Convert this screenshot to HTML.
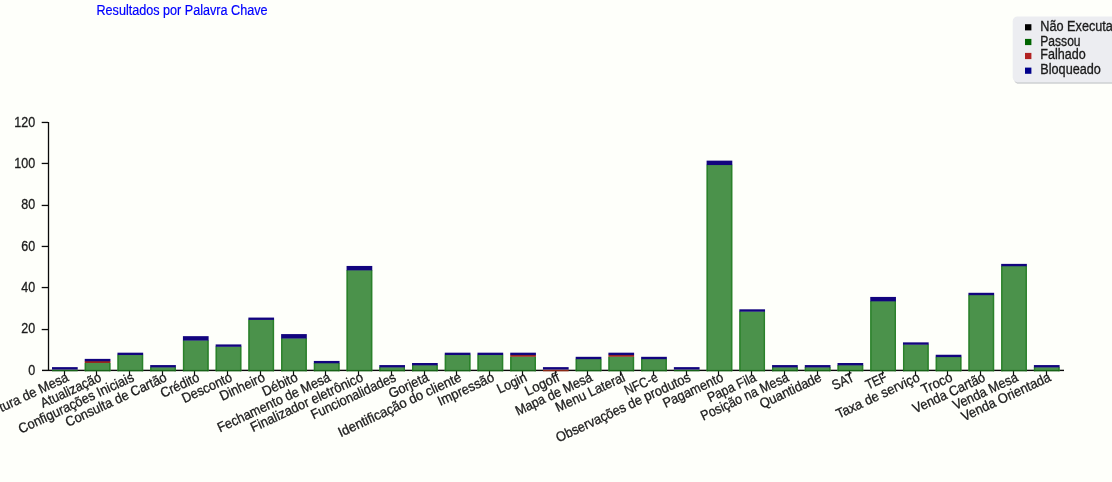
<!DOCTYPE html>
<html lang="pt-BR"><head><meta charset="utf-8"><title>Resultados por Palavra Chave</title>
<style>html,body{margin:0;padding:0;background:#fefffa;overflow:hidden}svg{display:block}text{font-family:"Liberation Sans",sans-serif;font-size:13.8px}</style>
</head><body>
<svg width="1112" height="482" viewBox="0 0 1112 482">
<rect x="0" y="0" width="1112" height="482" fill="#fefffa"/>
<text x="96.5" y="15.3" fill="#0000ff" stroke="#0000ff" stroke-width="0.2" textLength="171" lengthAdjust="spacingAndGlyphs">Resultados por Palavra Chave</text>
<g>
<rect x="1013.8" y="17.5" width="120" height="66.3" rx="5" ry="5" fill="#ced0d2"/>
<rect x="1012.7" y="16.4" width="120" height="65.8" rx="5" ry="5" fill="#ecedf1"/>
<rect x="1025" y="24.2" width="6.4" height="6.2" fill="#000000"/>
<text x="1040.3" y="31.2" fill="#1a1a1a" stroke="#1a1a1a" stroke-width="0.3" textLength="86.7" lengthAdjust="spacingAndGlyphs">Não Executado</text>
<rect x="1025" y="38.9" width="6.4" height="6.2" fill="#006400"/>
<text x="1040.3" y="45.7" fill="#1a1a1a" stroke="#1a1a1a" stroke-width="0.3" textLength="40.3" lengthAdjust="spacingAndGlyphs">Passou</text>
<rect x="1025" y="52.9" width="6.4" height="6.2" fill="#b22222"/>
<text x="1040.3" y="59.4" fill="#1a1a1a" stroke="#1a1a1a" stroke-width="0.3" textLength="45.4" lengthAdjust="spacingAndGlyphs">Falhado</text>
<rect x="1025" y="67.6" width="6.4" height="6.2" fill="#00008b"/>
<text x="1040.3" y="74.2" fill="#1a1a1a" stroke="#1a1a1a" stroke-width="0.3" textLength="60.6" lengthAdjust="spacingAndGlyphs">Bloqueado</text>
</g>
<g fill="#0a0a0a">
<rect x="47.85" y="122" width="1.3" height="249"/>
<rect x="42" y="369.7" width="1022" height="1.4"/>
<rect x="41.7" y="328.9" width="6.3" height="1.3"/>
<rect x="41.7" y="286.9" width="6.3" height="1.3"/>
<rect x="41.7" y="245.8" width="6.3" height="1.3"/>
<rect x="41.7" y="204.8" width="6.3" height="1.3"/>
<rect x="41.7" y="162.8" width="6.3" height="1.3"/>
<rect x="41.7" y="121.8" width="6.3" height="1.3"/>
</g>
<g fill="#1c1c1c" stroke="#1c1c1c" stroke-width="0.3" text-anchor="end">
<text x="35.2" y="374.6" textLength="7.0" lengthAdjust="spacingAndGlyphs">0</text>
<text x="35.2" y="333.3" textLength="13.9" lengthAdjust="spacingAndGlyphs">20</text>
<text x="35.2" y="291.9" textLength="13.9" lengthAdjust="spacingAndGlyphs">40</text>
<text x="35.2" y="250.6" textLength="13.9" lengthAdjust="spacingAndGlyphs">60</text>
<text x="35.2" y="209.3" textLength="13.9" lengthAdjust="spacingAndGlyphs">80</text>
<text x="35.2" y="167.9" textLength="20.9" lengthAdjust="spacingAndGlyphs">100</text>
<text x="35.2" y="126.6" textLength="20.9" lengthAdjust="spacingAndGlyphs">120</text>
</g>
<rect x="63.9" y="371" width="1.2" height="4.8" fill="#0a0a0a"/>
<rect x="52.00" y="369.7" width="25.70" height="1.6" fill="#176417"/>
<rect x="52.00" y="367.13" width="25.70" height="2.36" fill="#12047e"/>
<rect x="95.9" y="371" width="1.2" height="4.8" fill="#0a0a0a"/>
<rect x="84.73" y="363.00" width="25.70" height="8.19" fill="#4b924b"/>
<rect x="84.73" y="363.00" width="1.4" height="8.19" fill="#2a812a"/>
<rect x="109.03" y="363.00" width="1.4" height="8.19" fill="#2a812a"/>
<rect x="84.73" y="369.9" width="25.70" height="1.3" fill="#176417"/>
<rect x="84.73" y="360.94" width="25.70" height="2.06" fill="#96281e"/>
<rect x="84.73" y="358.88" width="25.70" height="2.36" fill="#12047e"/>
<rect x="128.9" y="371" width="1.2" height="4.8" fill="#0a0a0a"/>
<rect x="117.46" y="354.75" width="25.70" height="16.45" fill="#4b924b"/>
<rect x="117.46" y="354.75" width="1.4" height="16.45" fill="#2a812a"/>
<rect x="141.76" y="354.75" width="1.4" height="16.45" fill="#2a812a"/>
<rect x="117.46" y="369.9" width="25.70" height="1.3" fill="#176417"/>
<rect x="117.46" y="352.68" width="25.70" height="2.36" fill="#12047e"/>
<rect x="161.9" y="371" width="1.2" height="4.8" fill="#0a0a0a"/>
<rect x="150.19" y="367.13" width="25.70" height="4.06" fill="#4b924b"/>
<rect x="150.19" y="367.13" width="1.4" height="4.06" fill="#2a812a"/>
<rect x="174.49" y="367.13" width="1.4" height="4.06" fill="#2a812a"/>
<rect x="150.19" y="369.9" width="25.70" height="1.3" fill="#176417"/>
<rect x="150.19" y="365.07" width="25.70" height="2.36" fill="#12047e"/>
<rect x="193.9" y="371" width="1.2" height="4.8" fill="#0a0a0a"/>
<rect x="182.92" y="340.29" width="25.70" height="30.91" fill="#4b924b"/>
<rect x="182.92" y="340.29" width="1.4" height="30.91" fill="#2a812a"/>
<rect x="207.22" y="340.29" width="1.4" height="30.91" fill="#2a812a"/>
<rect x="182.92" y="369.9" width="25.70" height="1.3" fill="#176417"/>
<rect x="182.92" y="336.16" width="25.70" height="4.43" fill="#12047e"/>
<rect x="226.9" y="371" width="1.2" height="4.8" fill="#0a0a0a"/>
<rect x="215.65" y="346.49" width="25.70" height="24.71" fill="#4b924b"/>
<rect x="215.65" y="346.49" width="1.4" height="24.71" fill="#2a812a"/>
<rect x="239.95" y="346.49" width="1.4" height="24.71" fill="#2a812a"/>
<rect x="215.65" y="369.9" width="25.70" height="1.3" fill="#176417"/>
<rect x="215.65" y="344.42" width="25.70" height="2.37" fill="#12047e"/>
<rect x="259.9" y="371" width="1.2" height="4.8" fill="#0a0a0a"/>
<rect x="248.38" y="319.64" width="25.70" height="51.56" fill="#4b924b"/>
<rect x="248.38" y="319.64" width="1.4" height="51.56" fill="#2a812a"/>
<rect x="272.68" y="319.64" width="1.4" height="51.56" fill="#2a812a"/>
<rect x="248.38" y="369.9" width="25.70" height="1.3" fill="#176417"/>
<rect x="248.38" y="317.57" width="25.70" height="2.36" fill="#12047e"/>
<rect x="292.9" y="371" width="1.2" height="4.8" fill="#0a0a0a"/>
<rect x="281.11" y="338.22" width="25.70" height="32.98" fill="#4b924b"/>
<rect x="281.11" y="338.22" width="1.4" height="32.98" fill="#2a812a"/>
<rect x="305.41" y="338.22" width="1.4" height="32.98" fill="#2a812a"/>
<rect x="281.11" y="369.9" width="25.70" height="1.3" fill="#176417"/>
<rect x="281.11" y="334.09" width="25.70" height="4.43" fill="#12047e"/>
<rect x="324.9" y="371" width="1.2" height="4.8" fill="#0a0a0a"/>
<rect x="313.84" y="363.00" width="25.70" height="8.19" fill="#4b924b"/>
<rect x="313.84" y="363.00" width="1.4" height="8.19" fill="#2a812a"/>
<rect x="338.14" y="363.00" width="1.4" height="8.19" fill="#2a812a"/>
<rect x="313.84" y="369.9" width="25.70" height="1.3" fill="#176417"/>
<rect x="313.84" y="360.94" width="25.70" height="2.36" fill="#12047e"/>
<rect x="357.9" y="371" width="1.2" height="4.8" fill="#0a0a0a"/>
<rect x="346.57" y="270.08" width="25.70" height="101.12" fill="#4b924b"/>
<rect x="346.57" y="270.08" width="1.4" height="101.12" fill="#2a812a"/>
<rect x="370.87" y="270.08" width="1.4" height="101.12" fill="#2a812a"/>
<rect x="346.57" y="369.9" width="25.70" height="1.3" fill="#176417"/>
<rect x="346.57" y="265.95" width="25.70" height="4.43" fill="#12047e"/>
<rect x="390.9" y="371" width="1.2" height="4.8" fill="#0a0a0a"/>
<rect x="379.30" y="367.13" width="25.70" height="4.06" fill="#4b924b"/>
<rect x="379.30" y="367.13" width="1.4" height="4.06" fill="#2a812a"/>
<rect x="403.60" y="367.13" width="1.4" height="4.06" fill="#2a812a"/>
<rect x="379.30" y="369.9" width="25.70" height="1.3" fill="#176417"/>
<rect x="379.30" y="365.07" width="25.70" height="2.36" fill="#12047e"/>
<rect x="423.9" y="371" width="1.2" height="4.8" fill="#0a0a0a"/>
<rect x="412.03" y="365.07" width="25.70" height="6.13" fill="#4b924b"/>
<rect x="412.03" y="365.07" width="1.4" height="6.13" fill="#2a812a"/>
<rect x="436.33" y="365.07" width="1.4" height="6.13" fill="#2a812a"/>
<rect x="412.03" y="369.9" width="25.70" height="1.3" fill="#176417"/>
<rect x="412.03" y="363.00" width="25.70" height="2.36" fill="#12047e"/>
<rect x="455.9" y="371" width="1.2" height="4.8" fill="#0a0a0a"/>
<rect x="444.76" y="354.75" width="25.70" height="16.45" fill="#4b924b"/>
<rect x="444.76" y="354.75" width="1.4" height="16.45" fill="#2a812a"/>
<rect x="469.06" y="354.75" width="1.4" height="16.45" fill="#2a812a"/>
<rect x="444.76" y="369.9" width="25.70" height="1.3" fill="#176417"/>
<rect x="444.76" y="352.68" width="25.70" height="2.36" fill="#12047e"/>
<rect x="488.9" y="371" width="1.2" height="4.8" fill="#0a0a0a"/>
<rect x="477.49" y="354.75" width="25.70" height="16.45" fill="#4b924b"/>
<rect x="477.49" y="354.75" width="1.4" height="16.45" fill="#2a812a"/>
<rect x="501.79" y="354.75" width="1.4" height="16.45" fill="#2a812a"/>
<rect x="477.49" y="369.9" width="25.70" height="1.3" fill="#176417"/>
<rect x="477.49" y="352.68" width="25.70" height="2.36" fill="#12047e"/>
<rect x="521.9" y="371" width="1.2" height="4.8" fill="#0a0a0a"/>
<rect x="510.22" y="356.81" width="25.70" height="14.39" fill="#4b924b"/>
<rect x="510.22" y="356.81" width="1.4" height="14.39" fill="#2a812a"/>
<rect x="534.52" y="356.81" width="1.4" height="14.39" fill="#2a812a"/>
<rect x="510.22" y="369.9" width="25.70" height="1.3" fill="#176417"/>
<rect x="510.22" y="354.75" width="25.70" height="2.06" fill="#96281e"/>
<rect x="510.22" y="352.68" width="25.70" height="2.36" fill="#12047e"/>
<rect x="554.9" y="371" width="1.2" height="4.8" fill="#0a0a0a"/>
<rect x="542.95" y="369.7" width="25.70" height="1.6" fill="#8e2a14"/>
<rect x="542.95" y="367.13" width="25.70" height="2.36" fill="#12047e"/>
<rect x="586.9" y="371" width="1.2" height="4.8" fill="#0a0a0a"/>
<rect x="575.68" y="358.88" width="25.70" height="12.32" fill="#4b924b"/>
<rect x="575.68" y="358.88" width="1.4" height="12.32" fill="#2a812a"/>
<rect x="599.98" y="358.88" width="1.4" height="12.32" fill="#2a812a"/>
<rect x="575.68" y="369.9" width="25.70" height="1.3" fill="#176417"/>
<rect x="575.68" y="356.81" width="25.70" height="2.36" fill="#12047e"/>
<rect x="619.9" y="371" width="1.2" height="4.8" fill="#0a0a0a"/>
<rect x="608.41" y="356.81" width="25.70" height="14.39" fill="#4b924b"/>
<rect x="608.41" y="356.81" width="1.4" height="14.39" fill="#2a812a"/>
<rect x="632.71" y="356.81" width="1.4" height="14.39" fill="#2a812a"/>
<rect x="608.41" y="369.9" width="25.70" height="1.3" fill="#176417"/>
<rect x="608.41" y="354.75" width="25.70" height="2.06" fill="#96281e"/>
<rect x="608.41" y="352.68" width="25.70" height="2.36" fill="#12047e"/>
<rect x="652.9" y="371" width="1.2" height="4.8" fill="#0a0a0a"/>
<rect x="641.14" y="358.88" width="25.70" height="12.32" fill="#4b924b"/>
<rect x="641.14" y="358.88" width="1.4" height="12.32" fill="#2a812a"/>
<rect x="665.44" y="358.88" width="1.4" height="12.32" fill="#2a812a"/>
<rect x="641.14" y="369.9" width="25.70" height="1.3" fill="#176417"/>
<rect x="641.14" y="356.81" width="25.70" height="2.36" fill="#12047e"/>
<rect x="685.9" y="371" width="1.2" height="4.8" fill="#0a0a0a"/>
<rect x="673.87" y="369.7" width="25.70" height="1.6" fill="#176417"/>
<rect x="673.87" y="367.13" width="25.70" height="2.36" fill="#12047e"/>
<rect x="717.9" y="371" width="1.2" height="4.8" fill="#0a0a0a"/>
<rect x="706.60" y="164.76" width="25.70" height="206.44" fill="#4b924b"/>
<rect x="706.60" y="164.76" width="1.4" height="206.44" fill="#2a812a"/>
<rect x="730.90" y="164.76" width="1.4" height="206.44" fill="#2a812a"/>
<rect x="706.60" y="369.9" width="25.70" height="1.3" fill="#176417"/>
<rect x="706.60" y="160.63" width="25.70" height="4.43" fill="#12047e"/>
<rect x="750.9" y="371" width="1.2" height="4.8" fill="#0a0a0a"/>
<rect x="739.33" y="311.38" width="25.70" height="59.82" fill="#4b924b"/>
<rect x="739.33" y="311.38" width="1.4" height="59.82" fill="#2a812a"/>
<rect x="763.63" y="311.38" width="1.4" height="59.82" fill="#2a812a"/>
<rect x="739.33" y="369.9" width="25.70" height="1.3" fill="#176417"/>
<rect x="739.33" y="309.31" width="25.70" height="2.36" fill="#12047e"/>
<rect x="783.9" y="371" width="1.2" height="4.8" fill="#0a0a0a"/>
<rect x="772.06" y="367.13" width="25.70" height="4.06" fill="#4b924b"/>
<rect x="772.06" y="367.13" width="1.4" height="4.06" fill="#2a812a"/>
<rect x="796.36" y="367.13" width="1.4" height="4.06" fill="#2a812a"/>
<rect x="772.06" y="369.9" width="25.70" height="1.3" fill="#176417"/>
<rect x="772.06" y="365.07" width="25.70" height="2.36" fill="#12047e"/>
<rect x="816.9" y="371" width="1.2" height="4.8" fill="#0a0a0a"/>
<rect x="804.79" y="367.13" width="25.70" height="4.06" fill="#4b924b"/>
<rect x="804.79" y="367.13" width="1.4" height="4.06" fill="#2a812a"/>
<rect x="829.09" y="367.13" width="1.4" height="4.06" fill="#2a812a"/>
<rect x="804.79" y="369.9" width="25.70" height="1.3" fill="#176417"/>
<rect x="804.79" y="365.07" width="25.70" height="2.36" fill="#12047e"/>
<rect x="848.9" y="371" width="1.2" height="4.8" fill="#0a0a0a"/>
<rect x="837.52" y="365.07" width="25.70" height="6.13" fill="#4b924b"/>
<rect x="837.52" y="365.07" width="1.4" height="6.13" fill="#2a812a"/>
<rect x="861.82" y="365.07" width="1.4" height="6.13" fill="#2a812a"/>
<rect x="837.52" y="369.9" width="25.70" height="1.3" fill="#176417"/>
<rect x="837.52" y="363.00" width="25.70" height="2.36" fill="#12047e"/>
<rect x="881.9" y="371" width="1.2" height="4.8" fill="#0a0a0a"/>
<rect x="870.25" y="301.06" width="25.70" height="70.14" fill="#4b924b"/>
<rect x="870.25" y="301.06" width="1.4" height="70.14" fill="#2a812a"/>
<rect x="894.55" y="301.06" width="1.4" height="70.14" fill="#2a812a"/>
<rect x="870.25" y="369.9" width="25.70" height="1.3" fill="#176417"/>
<rect x="870.25" y="296.93" width="25.70" height="4.43" fill="#12047e"/>
<rect x="914.9" y="371" width="1.2" height="4.8" fill="#0a0a0a"/>
<rect x="902.98" y="344.42" width="25.70" height="26.78" fill="#4b924b"/>
<rect x="902.98" y="344.42" width="1.4" height="26.78" fill="#2a812a"/>
<rect x="927.28" y="344.42" width="1.4" height="26.78" fill="#2a812a"/>
<rect x="902.98" y="369.9" width="25.70" height="1.3" fill="#176417"/>
<rect x="902.98" y="342.36" width="25.70" height="2.36" fill="#12047e"/>
<rect x="946.9" y="371" width="1.2" height="4.8" fill="#0a0a0a"/>
<rect x="935.71" y="356.81" width="25.70" height="14.39" fill="#4b924b"/>
<rect x="935.71" y="356.81" width="1.4" height="14.39" fill="#2a812a"/>
<rect x="960.01" y="356.81" width="1.4" height="14.39" fill="#2a812a"/>
<rect x="935.71" y="369.9" width="25.70" height="1.3" fill="#176417"/>
<rect x="935.71" y="354.75" width="25.70" height="2.36" fill="#12047e"/>
<rect x="979.9" y="371" width="1.2" height="4.8" fill="#0a0a0a"/>
<rect x="968.44" y="294.86" width="25.70" height="76.34" fill="#4b924b"/>
<rect x="968.44" y="294.86" width="1.4" height="76.34" fill="#2a812a"/>
<rect x="992.74" y="294.86" width="1.4" height="76.34" fill="#2a812a"/>
<rect x="968.44" y="369.9" width="25.70" height="1.3" fill="#176417"/>
<rect x="968.44" y="292.79" width="25.70" height="2.37" fill="#12047e"/>
<rect x="1012.9" y="371" width="1.2" height="4.8" fill="#0a0a0a"/>
<rect x="1001.17" y="265.95" width="25.70" height="105.25" fill="#4b924b"/>
<rect x="1001.17" y="265.95" width="1.4" height="105.25" fill="#2a812a"/>
<rect x="1025.47" y="265.95" width="1.4" height="105.25" fill="#2a812a"/>
<rect x="1001.17" y="369.9" width="25.70" height="1.3" fill="#176417"/>
<rect x="1001.17" y="263.88" width="25.70" height="2.36" fill="#12047e"/>
<rect x="1045.9" y="371" width="1.2" height="4.8" fill="#0a0a0a"/>
<rect x="1033.90" y="367.13" width="25.70" height="4.06" fill="#4b924b"/>
<rect x="1033.90" y="367.13" width="1.4" height="4.06" fill="#2a812a"/>
<rect x="1058.20" y="367.13" width="1.4" height="4.06" fill="#2a812a"/>
<rect x="1033.90" y="369.9" width="25.70" height="1.3" fill="#176417"/>
<rect x="1033.90" y="365.07" width="25.70" height="2.36" fill="#12047e"/>
<g fill="#1c1c1c" stroke="#1c1c1c" stroke-width="0.3" text-anchor="end">
<text transform="translate(69.5,380.5) rotate(-25)" textLength="102.3" lengthAdjust="spacingAndGlyphs">Abertura de Mesa</text>
<text transform="translate(102.3,380.5) rotate(-25)" textLength="65.3" lengthAdjust="spacingAndGlyphs">Atualização</text>
<text transform="translate(135.0,380.5) rotate(-25)" textLength="125.8" lengthAdjust="spacingAndGlyphs">Configurações Iniciais</text>
<text transform="translate(167.8,380.5) rotate(-25)" textLength="110.1" lengthAdjust="spacingAndGlyphs">Consulta de Cartão</text>
<text transform="translate(200.5,380.5) rotate(-25)" textLength="41.3" lengthAdjust="spacingAndGlyphs">Crédito</text>
<text transform="translate(233.2,380.5) rotate(-25)" textLength="53.7" lengthAdjust="spacingAndGlyphs">Desconto</text>
<text transform="translate(266.0,380.5) rotate(-25)" textLength="48.3" lengthAdjust="spacingAndGlyphs">Dinheiro</text>
<text transform="translate(298.7,380.5) rotate(-25)" textLength="37.6" lengthAdjust="spacingAndGlyphs">Débito</text>
<text transform="translate(331.5,380.5) rotate(-25)" textLength="123.0" lengthAdjust="spacingAndGlyphs">Fechamento de Mesa</text>
<text transform="translate(364.2,380.5) rotate(-25)" textLength="122.6" lengthAdjust="spacingAndGlyphs">Finalizador eletrônico</text>
<text transform="translate(397.0,380.5) rotate(-25)" textLength="92.1" lengthAdjust="spacingAndGlyphs">Funcionalidades</text>
<text transform="translate(429.7,380.5) rotate(-25)" textLength="42.5" lengthAdjust="spacingAndGlyphs">Gorjeta</text>
<text transform="translate(462.4,380.5) rotate(-25)" textLength="134.2" lengthAdjust="spacingAndGlyphs">Identificação do cliente</text>
<text transform="translate(495.2,380.5) rotate(-25)" textLength="60.6" lengthAdjust="spacingAndGlyphs">Impressão</text>
<text transform="translate(527.9,380.5) rotate(-25)" textLength="31.3" lengthAdjust="spacingAndGlyphs">Login</text>
<text transform="translate(560.6,380.5) rotate(-25)" textLength="36.4" lengthAdjust="spacingAndGlyphs">Logoff</text>
<text transform="translate(593.4,380.5) rotate(-25)" textLength="83.3" lengthAdjust="spacingAndGlyphs">Mapa de Mesa</text>
<text transform="translate(626.1,380.5) rotate(-25)" textLength="75.1" lengthAdjust="spacingAndGlyphs">Menu Lateral</text>
<text transform="translate(658.9,380.5) rotate(-25)" textLength="35.2" lengthAdjust="spacingAndGlyphs">NFC-e</text>
<text transform="translate(691.6,380.5) rotate(-25)" textLength="146.9" lengthAdjust="spacingAndGlyphs">Observações de produtos</text>
<text transform="translate(724.4,380.5) rotate(-25)" textLength="65.1" lengthAdjust="spacingAndGlyphs">Pagamento</text>
<text transform="translate(757.1,380.5) rotate(-25)" textLength="52.1" lengthAdjust="spacingAndGlyphs">Papa Fila</text>
<text transform="translate(789.8,380.5) rotate(-25)" textLength="95.5" lengthAdjust="spacingAndGlyphs">Posição na Mesa</text>
<text transform="translate(822.6,380.5) rotate(-25)" textLength="66.6" lengthAdjust="spacingAndGlyphs">Quantidade</text>
<text transform="translate(855.3,380.5) rotate(-25)" textLength="22.9" lengthAdjust="spacingAndGlyphs">SAT</text>
<text transform="translate(888.0,380.5) rotate(-25)" textLength="21.9" lengthAdjust="spacingAndGlyphs">TEF</text>
<text transform="translate(920.8,380.5) rotate(-25)" textLength="90.6" lengthAdjust="spacingAndGlyphs">Taxa de serviço</text>
<text transform="translate(953.5,380.5) rotate(-25)" textLength="32.7" lengthAdjust="spacingAndGlyphs">Troco</text>
<text transform="translate(986.3,380.5) rotate(-25)" textLength="78.3" lengthAdjust="spacingAndGlyphs">Venda Cartão</text>
<text transform="translate(1019.0,380.5) rotate(-25)" textLength="70.1" lengthAdjust="spacingAndGlyphs">Venda Mesa</text>
<text transform="translate(1051.8,380.5) rotate(-25)" textLength="97.0" lengthAdjust="spacingAndGlyphs">Venda Orientada</text>
</g>
</svg>
</body></html>
